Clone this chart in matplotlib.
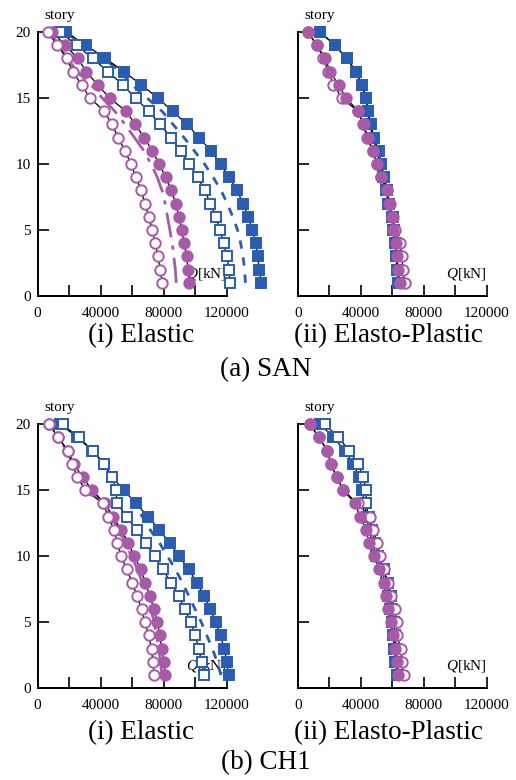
import numpy as np
import matplotlib
matplotlib.use("Agg")
import matplotlib.pyplot as plt

plt.rcParams['font.family'] = ['Liberation Serif', 'DejaVu Serif']
plt.rcParams['mathtext.fontset'] = 'custom'
plt.rcParams['mathtext.it'] = 'Liberation Serif:italic'
plt.rcParams['mathtext.rm'] = 'Liberation Serif'

stories = np.arange(1, 21)

# story shear force Q [kN], story 1 -> 20
# (a) SAN, elastic
san_el_blue_fill = [142200, 140700, 139900, 138600, 136500, 133800, 130600, 126600, 121700, 116200,
                    110100, 102600, 94800, 85700, 76400, 65800, 54800, 43000, 30700, 17800]
san_el_blue_open = [122300, 121700, 120200, 118100, 115800, 113200, 109800, 106200, 101600, 96300,
                    90800, 84700, 77900, 70500, 62200, 54000, 44700, 34900, 24800, 14200]
san_el_blue_dash = [132000, 131500, 130500, 129000, 127000, 124000, 120500, 116500, 111500, 106000,
                    99500, 93000, 86000, 79000, 69500, 60000, 52500, 42000, 30000, 17000]
san_el_mag_fill = [96300, 95700, 94600, 93100, 91600, 89700, 87800, 84900, 81300, 77200,
                   72800, 67700, 62000, 56100, 45700, 38100, 30900, 25400, 17600, 9300]
san_el_mag_open = [79200, 77900, 76400, 74700, 72800, 70700, 68100, 65800, 62400, 59300,
                   55400, 51200, 47200, 42300, 33200, 27900, 22200, 18600, 12500, 6300]
san_el_mag_dash = [88000, 87500, 86500, 85500, 84000, 82500, 81000, 79000, 76000, 72000,
                   67500, 61500, 55500, 49000, 41000, 34000, 25000, 19000, 13000, 8000]

# (a) SAN, elasto-plastic
san_ep_blue_fill = [63900, 62900, 62400, 61800, 60700, 59700, 57500, 56100, 54000, 52000,
                    50500, 47600, 45900, 44400, 43200, 40800, 37000, 31100, 23500, 14200]
san_ep_blue_open = [64500, 63500, 63000, 62400, 61400, 60400, 58300, 57000, 55000, 53000,
                    51500, 48300, 46500, 44800, 43500, 41000, 37200, 31200, 23600, 14300]
san_ep_mag_fill = [65000, 63900, 62900, 62400, 60700, 59700, 58200, 56500, 52700, 50200,
                   48000, 43800, 41700, 38500, 30700, 26000, 20500, 17600, 12100, 6300]
san_ep_mag_open = [68100, 67000, 66000, 65000, 62000, 60500, 58500, 56500, 53000, 50500,
                   48000, 44500, 42000, 38000, 28100, 22600, 19400, 16300, 12300, 6300]

# (b) CH1, elastic
ch1_el_blue_fill = [121300, 120200, 118500, 116200, 113200, 109800, 105700, 101200, 95900, 90100,
                    83900, 77300, 70300, 62400, 54900, 47400, 42100, 34600, 25200, 14500]
ch1_el_blue_open = [105500, 104200, 102300, 100200, 97200, 93500, 89500, 84800, 79400, 74300,
                    68800, 62800, 56600, 50600, 49500, 47400, 42300, 35200, 26100, 15800]
ch1_el_blue_dash = [116500, 114000, 111000, 107500, 104000, 100000, 96000, 92000, 87500, 82500,
                    77500, 71500, 66500, 61000, 54500, 47400, 42000, 34800, 25500, 15000]
ch1_el_mag_fill = [80900, 80100, 78800, 77700, 76000, 73900, 71300, 68300, 65600, 61300,
                   57700, 53000, 48000, 42700, 34600, 28600, 22800, 19200, 13200, 7300]
ch1_el_mag_open = [73900, 73200, 72400, 70500, 68100, 66000, 63000, 60200, 56600, 53000,
                   50600, 48500, 44800, 41600, 30300, 25200, 21800, 19000, 13000, 7300]
ch1_el_mag_dash = [79000, 78000, 77000, 75500, 74000, 72000, 69500, 66500, 63500, 59500,
                   56000, 51500, 47000, 42000, 34000, 28000, 22500, 18500, 13000, 7500]

# (b) CH1, elasto-plastic
ch1_ep_blue_fill = [62900, 62000, 61400, 60700, 59900, 58600, 57600, 55900, 53300, 49700,
                    47600, 45300, 43800, 42700, 40600, 39100, 35300, 30000, 22600, 14200]
ch1_ep_blue_open = [64000, 63200, 62600, 62000, 61200, 60000, 59000, 57200, 54500, 51200,
                    49300, 47000, 45000, 43400, 43400, 41700, 38100, 32800, 25800, 17300]
ch1_ep_mag_fill = [63900, 62900, 61800, 60500, 59000, 57500, 56000, 54500, 51600, 48500,
                   45500, 43200, 39600, 36400, 29000, 24700, 21100, 18800, 13500, 7800]
ch1_ep_mag_open = [67500, 66000, 65400, 63200, 62900, 61800, 59500, 57500, 54500, 52300,
                   50600, 48000, 45900, 38000, 29000, 24700, 21100, 18800, 13500, 7800]

blue = '#2a5cb2'
mag = '#a85aa8'


def marker_series(ax, q, marker, color, filled):
    ax.plot(q, stories, color='black', lw=0.9, zorder=3, clip_on=False)
    ax.plot(q, stories, ls='none', marker=marker, ms=7 if marker == 's' else 7.5,
            mfc=color if filled else 'white', mec=color, mew=1.4,
            zorder=4, clip_on=False)


def setup(ax, left_labels=True):
    ax.set_xlim(0, 120000)
    ax.set_ylim(0, 20)
    for side in ['top', 'right']:
        ax.spines[side].set_visible(False)
    for side in ['left', 'bottom']:
        ax.spines[side].set_linewidth(1.4)
    ax.set_xticks(np.arange(0, 120001, 20000))
    ax.set_xticklabels(['0', '', '40000', '', '80000', '', '120000'])
    ax.set_yticks([0, 5, 10, 15, 20])
    if not left_labels:
        ax.set_yticklabels([])
    ax.tick_params(direction='in', length=8, width=1.2, labelsize=11)
    ax.tick_params(axis='x', pad=8)
    ax.tick_params(axis='y', pad=5)
    ax.text(14000, 21.25, 'story', ha='center', va='center', fontsize=11, clip_on=False)
    ax.text(120000, 1.7, '$Q$[kN]', ha='right', va='center', fontsize=11, zorder=1)


fig = plt.figure(figsize=(5.16, 7.8), dpi=100)
w = 0.366
h = 0.3385
ax1 = fig.add_axes([0.073, 0.6205, w, h])
ax2 = fig.add_axes([0.577, 0.6205, w, h])
ax3 = fig.add_axes([0.073, 0.1176, w, h])
ax4 = fig.add_axes([0.577, 0.1176, w, h])

setup(ax1)
setup(ax2, False)
setup(ax3)
setup(ax4, False)

# (a)(i)
ax1.plot(san_el_blue_dash, stories, color=blue, lw=2, ls=(0, (3, 3.2)), zorder=2, clip_on=False)
ax1.plot(san_el_mag_dash, stories, color=mag, lw=2, ls=(0, (9, 3, 1.5, 3)), zorder=2, clip_on=False)
marker_series(ax1, san_el_blue_fill, 's', blue, True)
marker_series(ax1, san_el_blue_open, 's', blue, False)
marker_series(ax1, san_el_mag_fill, 'o', mag, True)
marker_series(ax1, san_el_mag_open, 'o', mag, False)

# (a)(ii)
marker_series(ax2, san_ep_blue_open, 's', blue, False)
marker_series(ax2, san_ep_blue_fill, 's', blue, True)
marker_series(ax2, san_ep_mag_open, 'o', mag, False)
marker_series(ax2, san_ep_mag_fill, 'o', mag, True)

# (b)(i)
ax3.plot(ch1_el_blue_dash, stories, color=blue, lw=2, ls=(0, (3, 3.2)), zorder=2, clip_on=False)
ax3.plot(ch1_el_mag_dash, stories, color=mag, lw=2, ls=(0, (9, 3, 1.5, 3)), zorder=2, clip_on=False)
marker_series(ax3, ch1_el_blue_fill, 's', blue, True)
marker_series(ax3, ch1_el_blue_open, 's', blue, False)
marker_series(ax3, ch1_el_mag_fill, 'o', mag, True)
marker_series(ax3, ch1_el_mag_open, 'o', mag, False)

# (b)(ii)
marker_series(ax4, ch1_ep_blue_fill, 's', blue, True)
marker_series(ax4, ch1_ep_blue_open, 's', blue, False)
marker_series(ax4, ch1_ep_mag_open, 'o', mag, False)
marker_series(ax4, ch1_ep_mag_fill, 'o', mag, True)

W, H = 516.0, 780.0
fig.text(141 / W, 1 - 336 / H, '(i) Elastic', ha='center', va='center', fontsize=19.5)
fig.text(388 / W, 1 - 336 / H, '(ii) Elasto-Plastic', ha='center', va='center', fontsize=19.5)
fig.text(266 / W, 1 - 370 / H, '(a) SAN', ha='center', va='center', fontsize=19.5)
fig.text(141 / W, 1 - 733 / H, '(i) Elastic', ha='center', va='center', fontsize=19.5)
fig.text(388 / W, 1 - 733 / H, '(ii) Elasto-Plastic', ha='center', va='center', fontsize=19.5)
fig.text(266 / W, 1 - 763 / H, '(b) CH1', ha='center', va='center', fontsize=19.5)

fig.savefig('out.png', dpi=100)
